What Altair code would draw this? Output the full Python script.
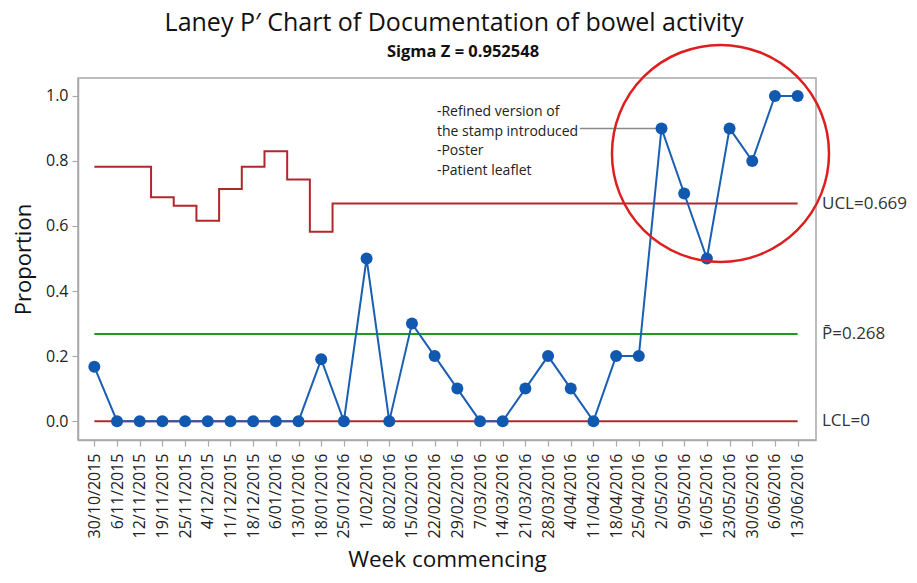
import json
import altair as alt
import pandas as pd

weeks = ["30/10/2015", "6/11/2015", "12/11/2015", "19/11/2015", "25/11/2015",
         "4/12/2015", "11/12/2015", "18/12/2015", "6/01/2016", "13/01/2016",
         "18/01/2016", "25/01/2016", "1/02/2016", "8/02/2016", "15/02/2016",
         "22/02/2016", "29/02/2016", "7/03/2016", "14/03/2016", "21/03/2016",
         "28/03/2016", "4/04/2016", "11/04/2016", "18/04/2016", "25/04/2016",
         "2/05/2016", "9/05/2016", "16/05/2016", "23/05/2016", "30/05/2016",
         "6/06/2016", "13/06/2016"]
proportion = [0.167, 0, 0, 0, 0, 0, 0, 0, 0, 0,
              0.19, 0, 0.5, 0, 0.3, 0.2, 0.1, 0, 0, 0.1,
              0.2, 0.1, 0, 0.2, 0.2, 0.9, 0.7, 0.5, 0.9, 0.8,
              1.0, 1.0]
ucl = [0.782, 0.782, 0.782, 0.688, 0.662, 0.616, 0.714, 0.782, 0.830, 0.743,
       0.582] + [0.669] * 21
center = 0.268
lcl = 0.0
limit_labels = ["UCL=0.669", "P\u0304=0.268", "LCL=0"]
limit_values = [0.669, 0.268, 0.0]
note_lines = ["-Refined version of", "the stamp introduced", "-Poster", "-Patient leaflet"]
note_pos = [15.1, 0.972]
connector = [21.4, 25, 0.9]
circle_center = [27.6, 0.823]
title_text = "Laney P\u2032 Chart of Documentation of bowel activity"
subtitle_text = "Sigma Z = 0.952548"
y_ticks = [0, 0.2, 0.4, 0.6, 0.8, 1.0]

FONT = "Open Sans"
W, H = 738, 362
x_dom = [-0.72, 31.81]
y_dom = [-0.058, 1.055]

idx = list(range(len(weeks)))
df = pd.DataFrame({"i": idx, "week": weeks, "p": proportion, "ucl": ucl,
                   "cl": [center] * len(weeks), "lcl": [lcl] * len(weeks)})

label_expr = json.dumps(weeks) + "[datum.value]"
x_axis = alt.Axis(values=idx, tickCount=len(idx) + 10, labelExpr=label_expr,
                  labelAngle=270, labelOverlap=False, title="Week commencing",
                  grid=False)
y_axis = alt.Axis(values=y_ticks, format=".1f", title="Proportion", grid=False)
x_scale = alt.Scale(domain=x_dom, nice=False, zero=False)
y_scale = alt.Scale(domain=y_dom, nice=False, zero=False)

base = alt.Chart(df)

ucl_line = base.mark_line(color="#b0282c", strokeWidth=2, interpolate="step").encode(
    x=alt.X("i:Q", scale=x_scale, axis=x_axis),
    y=alt.Y("ucl:Q", scale=y_scale, axis=y_axis))
cl_line = base.mark_line(color="#1f9a1f", strokeWidth=2).encode(
    x="i:Q", y="cl:Q")
lcl_line = base.mark_line(color="#b0282c", strokeWidth=2).encode(
    x="i:Q", y="lcl:Q")
data_line = base.mark_line(color="#1a5fb4", strokeWidth=2).encode(
    x="i:Q", y="p:Q")
data_pts = base.mark_point(filled=True, color="#1159b0", size=144, opacity=1,
                           shape="circle").encode(x="i:Q", y="p:Q")

conn_df = pd.DataFrame({"x": [connector[0]], "x2": [connector[1]], "y": [connector[2]]})
conn = alt.Chart(conn_df).mark_rule(color="#8a8a8a", strokeWidth=1.5).encode(
    x="x:Q", x2="x2:Q", y="y:Q")

note_df = pd.DataFrame({"x": [note_pos[0]], "y": [note_pos[1]], "t": [note_lines]})
note = alt.Chart(note_df).mark_text(align="left", baseline="top", fontSize=14,
                                    font=FONT, lineHeight=19.7, color="#222").encode(
    x="x:Q", y="y:Q", text="t")

lab_df = pd.DataFrame({"t": limit_labels, "y": limit_values})
labels = alt.Chart(lab_df).mark_text(align="left", baseline="middle", fontSize=17,
                                     font=FONT, color="#333").encode(
    x=alt.value(W + 6), y="y:Q", text="t:N")

circ_df = pd.DataFrame({"x": [circle_center[0]], "y": [circle_center[1]]})
circle = alt.Chart(circ_df).mark_point(shape="circle", filled=False, color="#dd1f1f",
                                       strokeWidth=2.5, size=47100, opacity=1).encode(
    x="x:Q", y="y:Q")

head_df = pd.DataFrame({"t": [title_text, subtitle_text],
                        "kind": ["title", "subtitle"]})
title_mark = alt.Chart(head_df).transform_filter(alt.datum.kind == "title").mark_text(
    align="center", baseline="alphabetic", fontSize=25, font=FONT,
    fontWeight="normal", color="#111").encode(
    x=alt.value(376), y=alt.value(-47), text="t:N")
subtitle_mark = alt.Chart(head_df).transform_filter(alt.datum.kind == "subtitle").mark_text(
    align="center", baseline="alphabetic", fontSize=16.5, font=FONT,
    fontWeight="bold", color="#111").encode(
    x=alt.value(385), y=alt.value(-21), text="t:N")

chart = alt.layer(ucl_line, cl_line, lcl_line, data_line, conn, data_pts, note,
                  labels, circle, title_mark, subtitle_mark).properties(
    width=W, height=H,
    autosize=alt.AutoSizeParams(type="none"),
    padding={"left": 70, "top": 70, "right": 93, "bottom": 135},
).configure_view(stroke="#a8a8a8", strokeWidth=1.5).configure_axis(
    domainColor="#a8a8a8", domainWidth=1.5, tickColor="#a8a8a8", tickWidth=1.2,
    tickSize=6, labelFont=FONT, labelFontSize=16, labelColor="#222",
    titleFont=FONT, titleFontSize=22, titleFontWeight="normal", titleColor="#111",
).configure_axisX(labelPadding=7, titlePadding=11, titleFontSize=22.5,
                  labelOverlap=False).configure_axisY(
    labelPadding=4, titlePadding=10)

chart.save("out.html", embed_options={"renderer": "svg", "actions": False})
